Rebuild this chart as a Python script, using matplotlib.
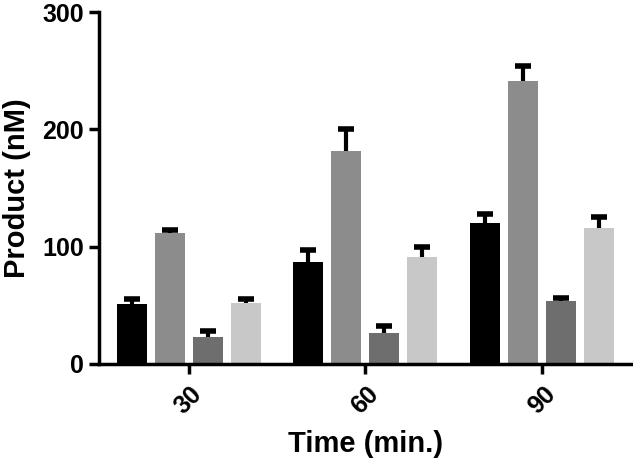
import matplotlib.pyplot as plt
import numpy as np

plt.rcParams['font.family'] = ['Liberation Sans', 'DejaVu Sans']
plt.rcParams['font.weight'] = 'bold'

# datos
times = ['30', '60', '90']
serie_a = [51, 87, 120]    # negro
serie_b = [112, 182, 241]  # gris
serie_c = [23, 26, 54]     # gris oscuro
serie_d = [52, 91, 116]    # gris claro
err_a = [4, 10, 8]
err_b = [2, 18, 13]
err_c = [5, 6, 2]
err_d = [3, 9, 9]

colores = ['#000000', '#8c8c8c', '#6e6e6e', '#c8c8c8']
series = [serie_a, serie_b, serie_c, serie_d]
errores = [err_a, err_b, err_c, err_d]

fig = plt.figure(figsize=(6.33, 4.66), dpi=100)
ax = fig.add_axes([0.156, 0.219, 0.844, 0.755])

x = np.arange(len(times))
paso = 0.215
ancho = 0.17
for i, (vals, errs, c) in enumerate(zip(series, errores, colores)):
    pos = x + (i - 1.5) * paso
    ax.bar(pos, vals, width=ancho, color=c, zorder=2)
    _, caps, _ = ax.errorbar(pos, vals, yerr=[np.zeros(len(errs)), errs], fmt='none',
                             ecolor='black', elinewidth=3, capsize=6, capthick=4, zorder=3)
    caps[0].set_visible(False)  # solo barra superior

ax.set_xlim(-0.51, 2.516)
ax.set_ylim(0, 300)
ax.set_yticks([0, 100, 200, 300])
ax.set_xticks(x)
ax.set_xticklabels(times, rotation=45, ha='center', va='top')

for s in ['top', 'right']:
    ax.spines[s].set_visible(False)
for s in ['left', 'bottom']:
    ax.spines[s].set_linewidth(2.5)

ax.tick_params(axis='both', width=2.5, length=7, labelsize=18)
ax.tick_params(axis='x', pad=6)
ax.set_ylabel('Product (nM)', fontsize=21, fontweight='bold', labelpad=8)
ax.set_xlabel('Time (min.)', fontsize=21, fontweight='bold', labelpad=8)

fig.savefig('out.png', dpi=100)
